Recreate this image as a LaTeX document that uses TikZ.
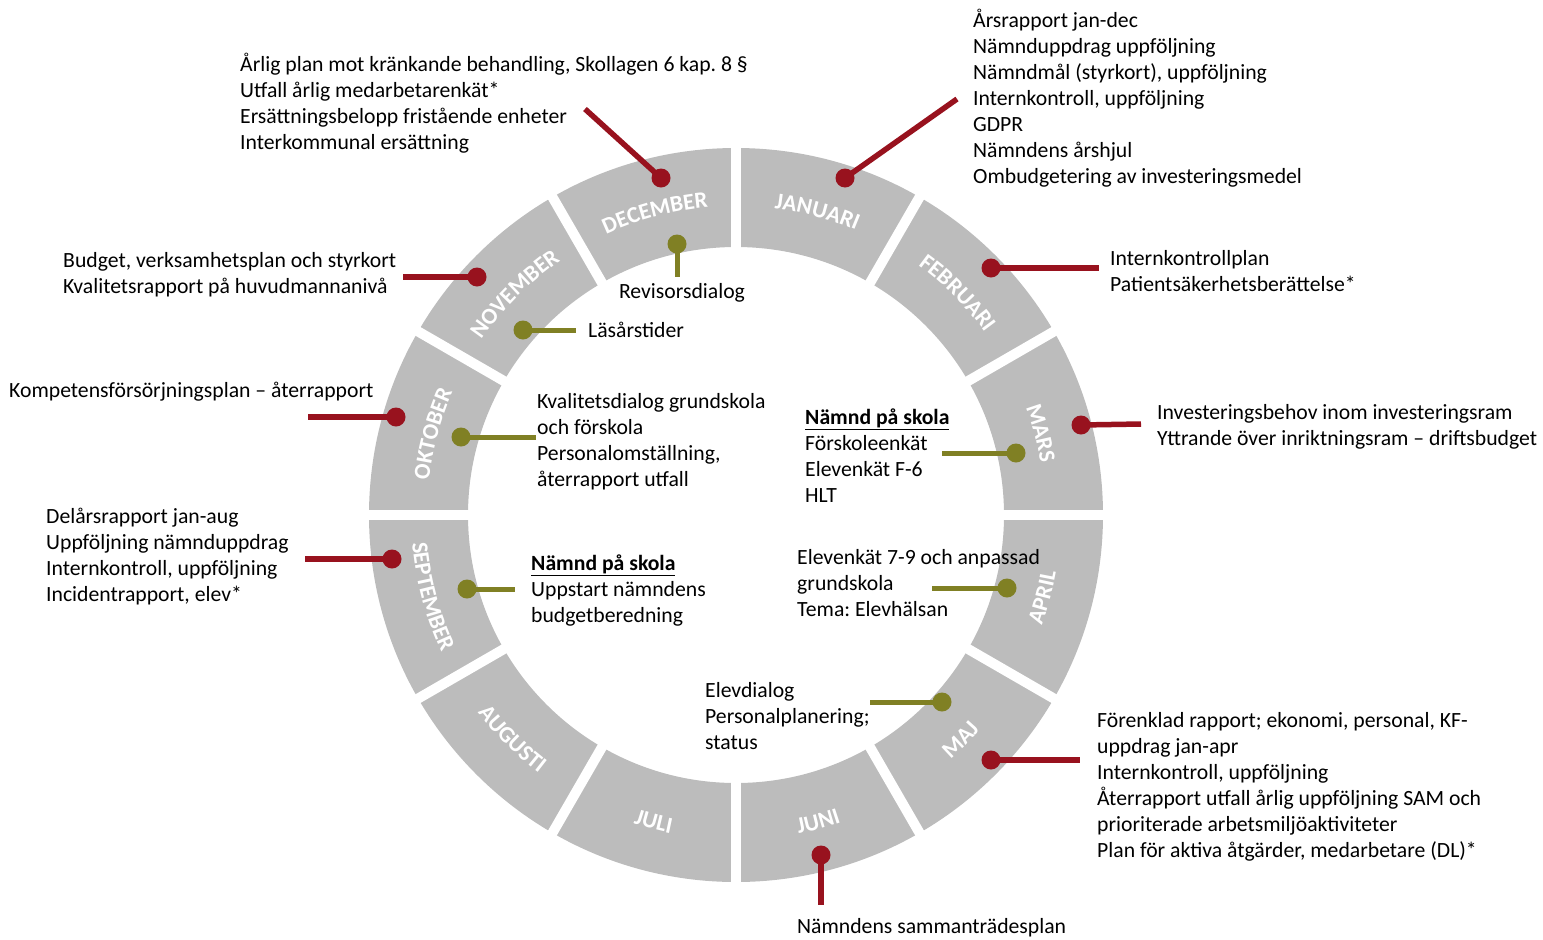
\documentclass[tikz,border=0pt]{standalone}
\usepackage{fontspec}
\setmainfont{Carlito}
\usetikzlibrary{decorations.text}
\definecolor{ringgray}{RGB}{188,188,188}
\definecolor{markred}{RGB}{152,18,30}
\definecolor{markolive}{RGB}{128,128,36}
\newcommand{\monthfont}{\fontsize{23}{27}\selectfont\bfseries\color{white}}
\frenchspacing

\begin{document}
\begin{tikzpicture}[x=1pt, y=-1pt,
  note/.style={font=\fontsize{21.7}{26}\selectfont, align=left,
    inner sep=0pt, anchor=base west},
  reddot/.style={circle, fill=markred, inner sep=0pt, minimum size=19pt},
  oldot/.style={circle, fill=markolive, inner sep=0pt, minimum size=19pt},
  redline/.style={draw=markred, line width=5.5pt},
  olline/.style={draw=markolive, line width=5pt},
  monthtext/.style={decorate, decoration={text along path,
    text align=center, text={|\monthfont|#1}}}]

  \useasboundingbox (0,0) rectangle (1543,940);
  \coordinate (c) at (736,515);

  % the wheel
  \fill[ringgray, even odd rule] (c) circle[radius=367pt] (c) circle[radius=268pt];
  \foreach \a in {0,30,...,330}
    \draw[white, line width=10pt] (c) -- ++(\a:380pt);

  \begin{scope}[shift={(c)}, y=1pt]
  \path[monthtext=JANUARI]  (90:309pt)  arc[start angle=90,  end angle=60,  radius=309pt];
  \path[monthtext=FEBRUARI] (60:309pt)  arc[start angle=60,  end angle=30,  radius=309pt];
  \path[monthtext=MARS]     (30:309pt)  arc[start angle=30,  end angle=0,   radius=309pt];
  \path[monthtext=DECEMBER] (120:309pt) arc[start angle=120, end angle=90,  radius=309pt];
  \path[monthtext=NOVEMBER] (150:309pt) arc[start angle=150, end angle=120, radius=309pt];
  \path[monthtext=OKTOBER]  (180:309pt) arc[start angle=180, end angle=150, radius=309pt];

  \path[monthtext=APRIL]     (-30:325pt)  arc[start angle=-30,  end angle=0,    radius=325pt];
  \path[monthtext=MAJ]       (-60:325pt)  arc[start angle=-60,  end angle=-30,  radius=325pt];
  \path[monthtext=JUNI]      (-90:325pt)  arc[start angle=-90,  end angle=-60,  radius=325pt];
  \path[monthtext=JULI]      (-120:325pt) arc[start angle=-120, end angle=-90,  radius=325pt];
  \path[monthtext=AUGUSTI]   (-150:325pt) arc[start angle=-150, end angle=-120, radius=325pt];
  \path[monthtext=SEPTEMBER] (-180:325pt) arc[start angle=-180, end angle=-150, radius=325pt];
  \end{scope}

  % red markers, outside
  \node[reddot] (decdot) at (661,178) {};
  \coordinate (decend) at (585,109);
  \draw[redline] (decdot.center) -- (decend);
  \node[reddot] (jandot) at (845,178) {};
  \coordinate (janend) at (957,99);
  \draw[redline] (jandot.center) -- (janend);
  \node[reddot] (febdot) at (991,268) {};
  \coordinate (febend) at (1099,268);
  \draw[redline] (febdot.center) -- (febend);
  \node[reddot] (mardot) at (1081,425) {};
  \coordinate (marend) at (1141,424);
  \draw[redline] (mardot.center) -- (marend);
  \node[reddot] (majdot) at (991,760) {};
  \coordinate (majend) at (1080,760);
  \draw[redline] (majdot.center) -- (majend);
  \node[reddot] (jundot) at (821,855) {};
  \coordinate (junend) at (821,905);
  \draw[redline] (jundot.center) -- (junend);
  \node[reddot] (sepdot) at (392,559) {};
  \coordinate (sepend) at (305,559);
  \draw[redline] (sepdot.center) -- (sepend);
  \node[reddot] (oktdot) at (396,417) {};
  \coordinate (oktend) at (308,417);
  \draw[redline] (oktdot.center) -- (oktend);
  \node[reddot] (novdot) at (477,277) {};
  \coordinate (novend) at (403,277);
  \draw[redline] (novdot.center) -- (novend);

  % texts are placed at the baseline of their last line
  \node[note] (dectext) at (240,149) {Årlig plan mot kränkande behandling, Skollagen 6 kap. 8 §\\
    Utfall årlig medarbetarenkät*\\Ersättningsbelopp fristående enheter\\Interkommunal ersättning};
  \node[note] (jantext) at (973,183) {Årsrapport jan-dec\\Nämnduppdrag uppföljning\\
    Nämndmål (styrkort), uppföljning\\Internkontroll, uppföljning\\GDPR\\
    Nämndens årshjul\\Ombudgetering av investeringsmedel};
  \node[note] (febtext) at (1110,291) {Internkontrollplan\\Patientsäkerhetsberättelse*};
  \node[note] (martext) at (1157,445) {Investeringsbehov inom investeringsram\\
    Yttrande över inriktningsram – driftsbudget};
  \node[note] (majtext) at (1097,857) {Förenklad rapport; ekonomi, personal, KF-\\
    uppdrag jan-apr\\Internkontroll, uppföljning\\
    Återrapport utfall årlig uppföljning SAM och\\prioriterade arbetsmiljöaktiviteter\\
    Plan för aktiva åtgärder, medarbetare (DL)*};
  \node[note] (juntext) at (797,933) {Nämndens sammanträdesplan};
  \node[note] (septext) at (46,601) {Delårsrapport jan-aug\\Uppföljning nämnduppdrag\\
    Internkontroll, uppföljning\\Incidentrapport, elev*};
  \node[note] (okttext) at (9,397) {Kompetensförsörjningsplan – återrapport};
  \node[note] (novtext) at (63,293) {Budget, verksamhetsplan och styrkort\\
    Kvalitetsrapport på huvudmannanivå};

  % olive markers, inside
  \node[oldot] (decin) at (677,244) {};
  \coordinate (decinend) at (677,277);
  \draw[olline] (decin.center) -- (decinend);
  \node[oldot] (novin) at (523,330) {};
  \coordinate (novinend) at (576,330);
  \draw[olline] (novin.center) -- (novinend);
  \node[oldot] (oktin) at (461,437) {};
  \coordinate (oktinend) at (536,437);
  \draw[olline] (oktin.center) -- (oktinend);
  \node[oldot] (sepin) at (467,589) {};
  \coordinate (sepinend) at (515,589);
  \draw[olline] (sepin.center) -- (sepinend);
  \node[oldot] (marin) at (1016,453) {};
  \coordinate (marinend) at (942,453);
  \draw[olline] (marin.center) -- (marinend);
  \node[oldot] (aprin) at (1007,588) {};
  \coordinate (aprinend) at (932,588);
  \draw[olline] (aprin.center) -- (aprinend);
  \node[oldot] (majin) at (942,702) {};
  \coordinate (majinend) at (870,702);
  \draw[olline] (majin.center) -- (majinend);

  \node[note, anchor=base] (decintext) at (682,298) {Revisorsdialog};
  \node[note] (novintext) at (588,337) {Läsårstider};
  \node[note] (oktintext) at (537,486) {Kvalitetsdialog grundskola\\och förskola\\
    Personalomställning,\\återrapport utfall};
  \node[note] (sepintext) at (531,622) {\textbf{\underline{Nämnd på skola}}\\
    Uppstart nämndens\\budgetberedning};
  \node[note] (marintext) at (805,502) {\textbf{\underline{Nämnd på skola}}\\
    Förskoleenkät\\Elevenkät F-6\\HLT};
  \node[note] (aprintext) at (797,616) {Elevenkät 7-9 och anpassad\\grundskola\\
    Tema: Elevhälsan};
  \node[note] (majintext) at (705,749) {Elevdialog\\Personalplanering;\\status};

\end{tikzpicture}
\end{document}
